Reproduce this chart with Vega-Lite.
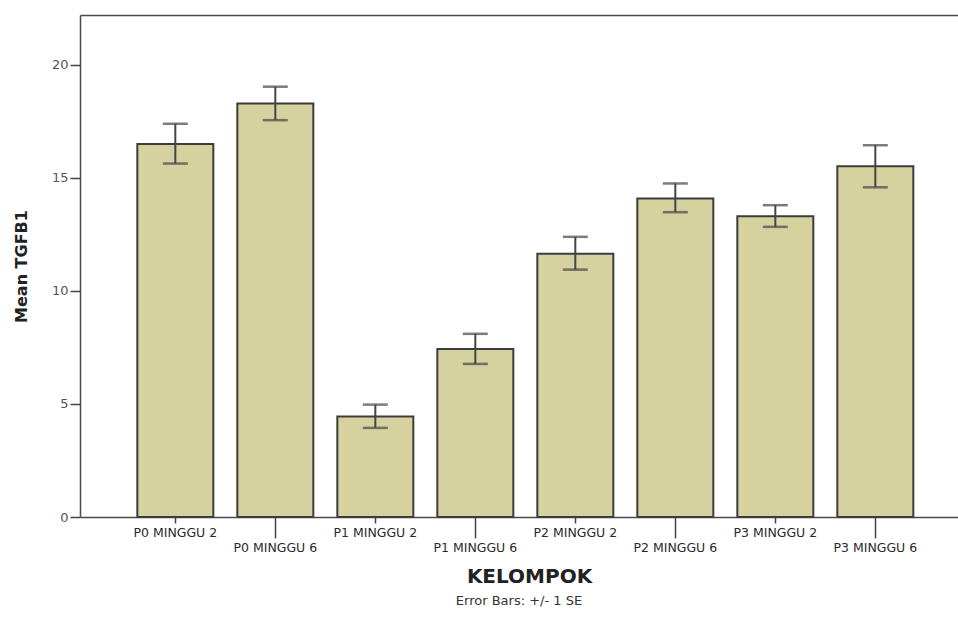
{
  "$schema": "https://vega.github.io/schema/vega-lite/v6.json",
  "autosize": {"type": "none"},
  "padding": {"left": 80, "top": 15, "right": 0, "bottom": 103},
  "width": 878,
  "height": 502,
  "background": "#ffffff",
  "title": {"text": "Error Bars: +/- 1 SE", "orient": "bottom", "anchor": "middle", "fontSize": 13, "fontWeight": "normal", "font": "DejaVu Sans", "color": "#333333", "offset": 8},
  "config": {
    "view": {"stroke": null},
    "axis": {"grid": false, "domainColor": "#4a4a4a", "domainWidth": 1.5, "labelFont": "DejaVu Sans", "labelColor": "#2a2a2a", "tickColor": "#444444", "tickWidth": 1.5, "titleFont": "DejaVu Sans", "titleColor": "#222222"}
  },
  "data": {"values": [
    {"kelompok": "P0 MINGGU 2", "mean": 16.5, "lo": 15.63, "hi": 17.39},
    {"kelompok": "P0 MINGGU 6", "mean": 18.29, "lo": 17.55, "hi": 19.03},
    {"kelompok": "P1 MINGGU 2", "mean": 4.44, "lo": 3.94, "hi": 4.97},
    {"kelompok": "P1 MINGGU 6", "mean": 7.43, "lo": 6.77, "hi": 8.1},
    {"kelompok": "P2 MINGGU 2", "mean": 11.64, "lo": 10.94, "hi": 12.39},
    {"kelompok": "P2 MINGGU 6", "mean": 14.08, "lo": 13.48, "hi": 14.75},
    {"kelompok": "P3 MINGGU 2", "mean": 13.3, "lo": 12.83, "hi": 13.79},
    {"kelompok": "P3 MINGGU 6", "mean": 15.51, "lo": 14.58, "hi": 16.44}
  ]},
  "resolve": {"axis": {"x": "independent"}},
  "layer": [
    {
      "mark": {"type": "bar", "fill": "#d6d2a0", "stroke": "#3c3c3c", "strokeWidth": 2},
      "encoding": {
        "x": {"field": "kelompok", "type": "nominal", "sort": null,
          "scale": {"paddingInner": 0.24, "paddingOuter": 0.51, "align": 0.562},
          "axis": {"orient": "bottom", "values": ["P0 MINGGU 2", "P1 MINGGU 2", "P2 MINGGU 2", "P3 MINGGU 2"], "labelAngle": 0, "labelFontSize": 12.5, "tickSize": 6, "labelPadding": 3, "title": null}},
        "y": {"field": "mean", "type": "quantitative",
          "scale": {"domain": [0, 22.2], "nice": false, "zero": true},
          "axis": {"values": [0, 5, 10, 15, 20], "tickSize": 10, "labelPadding": 2, "labelFontSize": 13, "labelColor": "#555555", "title": "Mean TGFB1", "titleFontSize": 16, "titleFontWeight": "bold", "titlePadding": 22}}
      }
    },
    {
      "mark": {"type": "rule", "stroke": "#444444", "strokeWidth": 2},
      "encoding": {
        "x": {"field": "kelompok", "type": "nominal", "sort": null,
          "axis": {"orient": "bottom", "domain": false, "values": ["P0 MINGGU 6", "P1 MINGGU 6", "P2 MINGGU 6", "P3 MINGGU 6"], "labelAngle": 0, "labelFontSize": 12.5, "tickSize": 21, "labelPadding": 3, "title": "KELOMPOK", "titleFontSize": 20, "titleFontWeight": "bold", "titlePadding": 13, "titleX": 449}},
        "y": {"field": "lo", "type": "quantitative"},
        "y2": {"field": "hi"}
      }
    },
    {
      "mark": {"type": "tick", "orient": "horizontal", "color": "#444444", "size": 25, "thickness": 2.5},
      "encoding": {
        "x": {"field": "kelompok", "type": "nominal", "sort": null,
          "axis": {"orient": "top", "domain": true, "ticks": false, "labels": false, "title": null}},
        "y": {"field": "hi", "type": "quantitative"}
      }
    },
    {
      "mark": {"type": "tick", "orient": "horizontal", "color": "#444444", "size": 25, "thickness": 2.5},
      "encoding": {
        "x": {"field": "kelompok", "type": "nominal", "sort": null, "axis": null},
        "y": {"field": "lo", "type": "quantitative"}
      }
    }
  ]
}
